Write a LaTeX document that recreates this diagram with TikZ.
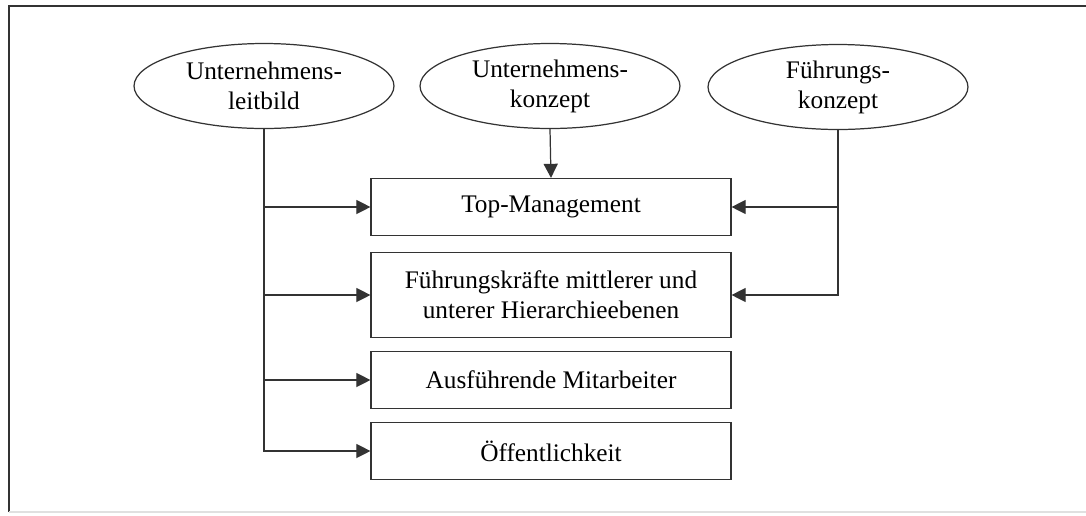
\documentclass[tikz,border=0pt]{standalone}
\usepackage{fontspec}
\setmainfont{Liberation Serif}
\usetikzlibrary{shapes.geometric,arrows.meta}
\definecolor{linegray}{HTML}{333333}
\begin{document}
\begin{tikzpicture}[x=0.02cm,y=-0.02cm,
  every node/.style={font=\fontsize{14.4}{17}\selectfont,text=black,align=center},
  oval/.style={ellipse,draw=linegray,line width=0.7pt,minimum width=5.2cm,minimum height=1.7cm,inner sep=0pt},
  box/.style={rectangle,draw=linegray,line width=0.7pt,minimum width=7.2cm,inner sep=0pt},
  arrow/.style={draw=linegray,line width=0.7pt,-{Triangle[length=8pt,width=8pt]}}]
\useasboundingbox (0,0) rectangle (1086,515);

%frame
\draw[linegray,line width=1.2pt] (9,512) -- (9,6) -- (1086,6);
\draw[black!12,line width=0.8pt] (9,512) -- (1086,512);

%ellipses
\node[oval] (leitbild) at (264,86) {Unternehmens-\\leitbild};
\node[oval] (konzept) at (550,86) {Unternehmens-\\konzept};
\node[oval] (fuehrung) at (838,87) {Führungs-\\konzept};

%boxes
\node[box,minimum height=1.14cm] (top) at (551,207) {Top-Management};
\node[box,minimum height=1.7cm] (mittel) at (551,295) {Führungskräfte mittlerer und\\unterer Hierarchieebenen};
\node[box,minimum height=1.14cm] (basis) at (551,380) {Ausführende Mitarbeiter};
\node[box,minimum height=1.14cm] (oeff) at (551,451) {Öffentlichkeit};

%left trunk
\draw[arrow] (leitbild.south) |- (oeff.west);
\draw[arrow] (leitbild.south |- top.west) -- (top.west);
\draw[arrow] (leitbild.south |- mittel.west) -- (mittel.west);
\draw[arrow] (leitbild.south |- basis.west) -- (basis.west);

%middle
\draw[arrow] (konzept.south) -- (top.north);

%right trunk
\draw[arrow] (fuehrung.south) |- (mittel.east);
\draw[arrow] (fuehrung.south |- top.east) -- (top.east);
\end{tikzpicture}
\end{document}
